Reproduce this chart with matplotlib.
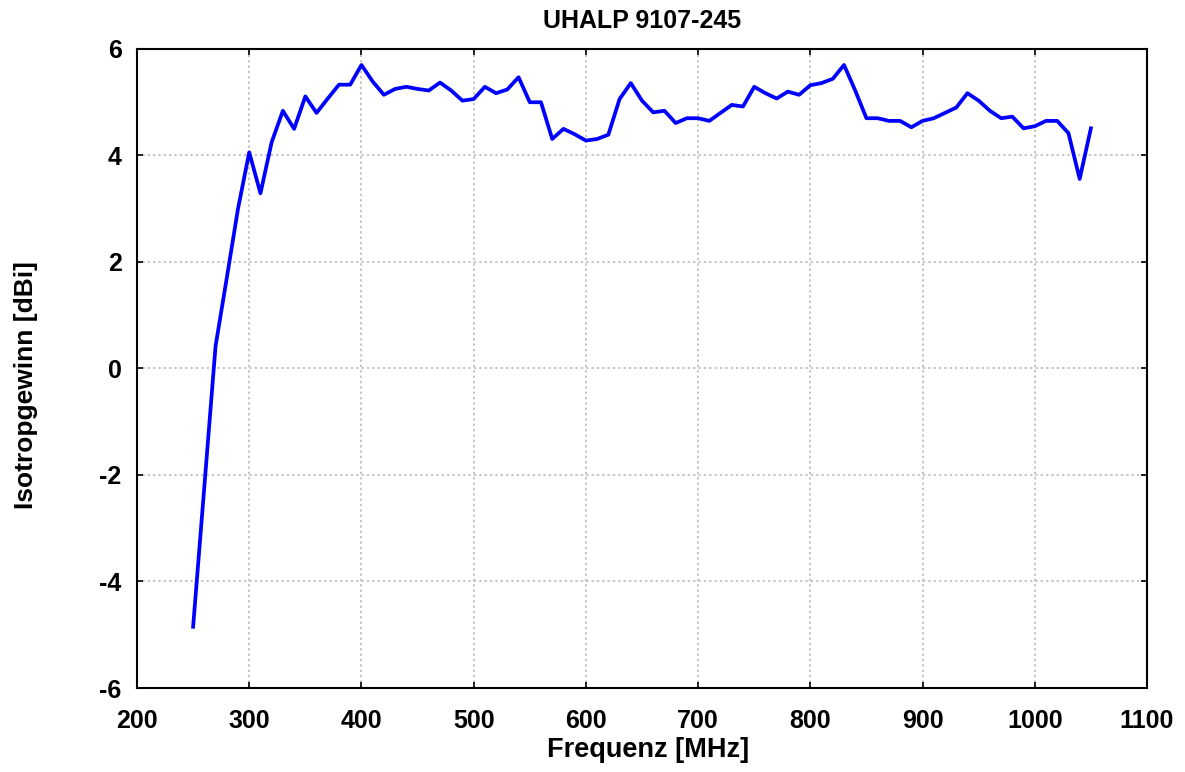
import numpy as np
import matplotlib
matplotlib.use("Agg")
import matplotlib.pyplot as plt

# Frequency in MHz (10 MHz steps) and isotropic gain in dBi
freq = list(range(250, 1051, 10))
gain = [
    -4.85, -2.22, 0.42, 1.70, 3.00, 4.06, 3.29, 4.25, 4.84, 4.50,
    5.11, 4.80, 5.07, 5.33, 5.33, 5.70, 5.39, 5.14, 5.25, 5.29,
    5.25, 5.22, 5.37, 5.22, 5.03, 5.06, 5.29, 5.17, 5.24, 5.47,
    5.00, 5.00, 4.31, 4.50, 4.40, 4.28, 4.31, 4.39, 5.06, 5.36,
    5.03, 4.81, 4.84, 4.61, 4.70, 4.70, 4.65, 4.80, 4.95, 4.92,
    5.29, 5.17, 5.07, 5.20, 5.14, 5.32, 5.36, 5.44, 5.70, 5.22,
    4.70, 4.70, 4.65, 4.65, 4.53, 4.65, 4.70, 4.80, 4.90, 5.17,
    5.03, 4.84, 4.70, 4.73, 4.51, 4.55, 4.65, 4.65, 4.42, 3.56,
    4.51,
]

x_ticks = list(range(200, 1101, 100))
y_ticks = list(range(-6, 7, 2))

title = "UHALP 9107-245"
x_label = "Frequenz [MHz]"
y_label = "Isotropgewinn [dBi]"


def main():
    plt.rcParams["font.family"] = ["Liberation Sans", "DejaVu Sans"]
    plt.rcParams["font.weight"] = "bold"
    plt.rcParams["axes.unicode_minus"] = False

    fig = plt.figure(figsize=(11.85, 7.72), dpi=100)
    ax = fig.add_axes([137 / 1185, 1 - 688 / 772, (1147 - 137) / 1185, (688 - 49) / 772])

    ax.plot(freq, gain, color="#0000ff", linewidth=2.7, zorder=3)

    ax.set_xlim(200, 1100)
    ax.set_ylim(-6, 6)
    ax.set_xticks(x_ticks)
    ax.set_yticks(y_ticks)
    ax.tick_params(direction="in", length=4, width=1.2, top=True, right=True,
                   labelsize=18)
    ax.tick_params(axis="x", pad=15)
    ax.tick_params(axis="y", pad=11)
    for lbl in ax.get_xticklabels() + ax.get_yticklabels():
        lbl.set_fontweight("bold")

    ax.grid(True, color="#b4b4b4", linestyle=(0, (1.5, 2)), linewidth=1.1)
    for s in ax.spines.values():
        s.set_linewidth(1.5)

    ax.set_title(title, fontsize=18, fontweight="bold", pad=15)
    ax.set_xlabel(x_label, fontsize=19.5, fontweight="bold")
    ax.set_ylabel(y_label, fontsize=19, fontweight="bold")
    ax.xaxis.set_label_coords(0.506, -0.076)
    ax.yaxis.set_label_coords(-0.098, 0.474)

    fig.savefig("out.png", dpi=100)


if __name__ == "__main__":
    main()
